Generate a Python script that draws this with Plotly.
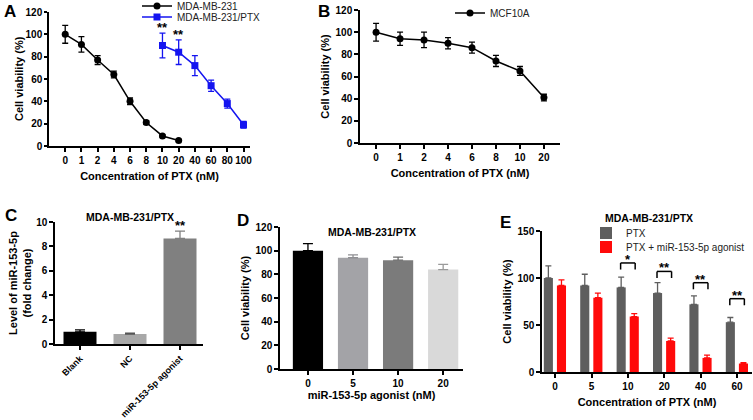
import plotly.graph_objects as go

W, H = 753, 420
def fx(p): return p / W
def fy(p): return 1 - p / H

# ---------------- data ----------------
# Panel A
conc_a = ['0', '1', '2', '4', '6', '8', '10', '20', '40', '60', '80', '100']
mda_x = ['0', '1', '2', '4', '6', '8', '10', '20']
mda_v = [100, 91, 77, 64, 40, 21, 9, 5]
mda_e = [8, 7, 4, 3, 3, 1.5, 1, 1]
ptx_x = ['10', '20', '40', '60', '80', '100']
ptx_v = [90, 84, 72, 54, 38, 19]
ptx_e = [11, 11, 9, 5, 4, 3]
ptx_stars = ['**', '**', '', '', '', '']

# Panel B
conc_b = ['0', '1', '2', '4', '6', '8', '10', '20']
mcf_v = [100, 94, 93, 90, 86, 74, 65, 41]
mcf_e = [8, 6, 7, 5, 5, 5, 4, 3]

# Panel C
groups_c = ['Blank', 'NC', 'miR-153-5p agonist']
level_c = [1.0, 0.82, 8.65]
level_err = [0.15, 0.06, 0.6]
colors_c = ['#000000', '#a8a8a8', '#808080']
stars_c = ['', '', '**']

# Panel D
dose_d = ['0', '5', '10', '20']
via_d = [100, 94, 92, 84]
via_err = [6, 2.5, 2.5, 4.5]
colors_d = ['#000000', '#a3a3a7', '#7b7b7b', '#d9d9d9']
errcol_d = ['#000000', '#8f8f93', '#6b6b6b', '#9a9a9a']

# Panel E
conc_e = ['0', '5', '10', '20', '40', '60']
ptx_bar = [100, 92, 90, 84, 72, 53]
ptx_bar_err = [13, 12, 11, 11, 9, 5]
ago_bar = [92, 79, 59, 33, 15, 9]
ago_bar_err = [6, 5, 3, 3, 3, 1]
sig_e = ['', '', '*', '**', '**', '**']
bracket_e = [None, None, 116, 107, 95, 78]

FONT = 'Arial, Liberation Sans, sans-serif'
BLUE = '#1414f0'
RED = '#ff0a0a'
GRAY_E = '#5e5e5e'

fig = go.Figure()

# ---------------- Panel A ----------------
ia = [conc_a.index(c) for c in mda_x]
ib = [conc_a.index(c) for c in ptx_x]
fig.add_trace(go.Scatter(
    x=ia, y=mda_v, mode='lines+markers', name='MDA-MB-231',
    line=dict(color='black', width=1.5), marker=dict(symbol='circle', size=7, color='black'),
    error_y=dict(type='data', array=mda_e, color='black', thickness=1.3, width=3),
    xaxis='x', yaxis='y', legend='legend', cliponaxis=False))
fig.add_trace(go.Scatter(
    x=ib, y=ptx_v, mode='lines+markers', name='MDA-MB-231/PTX',
    line=dict(color=BLUE, width=1.5), marker=dict(symbol='square', size=7, color=BLUE),
    error_y=dict(type='data', array=ptx_e, color=BLUE, thickness=1.3, width=3),
    xaxis='x', yaxis='y', legend='legend4', cliponaxis=False))

# ---------------- Panel B ----------------
fig.add_trace(go.Scatter(
    x=list(range(len(conc_b))), y=mcf_v, mode='lines+markers', name='MCF10A',
    line=dict(color='black', width=1.5), marker=dict(symbol='circle', size=7, color='black'),
    error_y=dict(type='data', array=mcf_e, color='black', thickness=1.3, width=3),
    xaxis='x2', yaxis='y2', legend='legend2', cliponaxis=False))

# ---------------- Panel C ----------------
for i, g in enumerate(groups_c):
    fig.add_trace(go.Bar(
        x=[i], y=[level_c[i]], width=0.66, marker=dict(color=colors_c[i], line=dict(width=0)),
        error_y=dict(type='data', symmetric=False, array=[level_err[i]], arrayminus=[0],
                     color='#000000' if i == 0 else ('#555555' if i == 1 else colors_c[i]),
                     thickness=1.3, width=5),
        showlegend=False, xaxis='x3', yaxis='y3'))

# ---------------- Panel D ----------------
for i, d in enumerate(dose_d):
    fig.add_trace(go.Bar(
        x=[i], y=[via_d[i]], width=0.67, marker=dict(color=colors_d[i], line=dict(width=0)),
        error_y=dict(type='data', symmetric=False, array=[via_err[i]], arrayminus=[0],
                     color=errcol_d[i], thickness=1.3, width=5),
        showlegend=False, xaxis='x4', yaxis='y4'))

# ---------------- Panel E ----------------
xe = list(range(len(conc_e)))
fig.add_trace(go.Bar(
    x=xe, y=ptx_bar, width=0.25, offset=-0.31, name='PTX',
    marker=dict(color=GRAY_E, line=dict(width=0)),
    error_y=dict(type='data', symmetric=False, array=ptx_bar_err, arrayminus=[0] * len(xe),
                 color=GRAY_E, thickness=1.3, width=3),
    xaxis='x5', yaxis='y5', legend='legend3'))
fig.add_trace(go.Bar(
    x=xe, y=ago_bar, width=0.25, offset=0.05, name='PTX + miR-153-5p agonist',
    marker=dict(color=RED, line=dict(width=0)),
    error_y=dict(type='data', symmetric=False, array=ago_bar_err, arrayminus=[0] * len(xe),
                 color=RED, thickness=1.3, width=3),
    xaxis='x5', yaxis='y5', legend='legend5'))

# ---------------- axes ----------------
tickfont = dict(family=FONT, size=10, color='black', weight='bold')
titlefont = dict(family=FONT, size=11, color='black', weight='bold')

def xax(domain, anchor, n, labels, rng, title=None, angle=0, standoff=4, tsize=10):
    tf = dict(tickfont)
    tf['size'] = tsize
    d = dict(domain=domain, anchor=anchor, range=rng, tickmode='array',
             tickvals=list(range(n)), ticktext=labels, showgrid=False, zeroline=False,
             showline=True, linecolor='black', linewidth=1.5, ticks='outside',
             ticklen=4, tickwidth=1.5, tickcolor='black', tickfont=tf,
             tickangle=angle, fixedrange=True, automargin=False)
    if title:
        d['title'] = dict(text=title, font=titlefont, standoff=standoff)
    return d

def yax(domain, anchor, rng, dtick, title, standoff=4, ticklen=4):
    d = dict(domain=domain, anchor=anchor, range=rng, dtick=dtick, tick0=0,
             showgrid=False, zeroline=False, showline=True, linecolor='black',
             linewidth=1.5, ticks='outside', ticklen=ticklen, tickwidth=1.5,
             tickcolor='black', tickfont=tickfont, automargin=False, fixedrange=True)
    if title:
        d['title'] = dict(text=title, font=titlefont, standoff=standoff)
    return d

layout = dict(
    width=W, height=H, margin=dict(l=0, r=0, t=0, b=0, autoexpand=False),
    paper_bgcolor='white', plot_bgcolor='white', barmode='overlay',
    font=dict(family=FONT, color='black'),
    xaxis=xax([fx(49), fx(250)], 'y', len(conc_a), conc_a, [-1, 11.4],
              'Concentration of PTX (nM)', standoff=8),
    yaxis=yax([fy(146), fy(12)], 'x', [0, 120], 20, None, ticklen=3),
    xaxis2=xax([fx(360), fx(560)], 'y2', len(conc_b), conc_b, [-0.67, 7.67],
               'Concentration of PTX (nM)', standoff=8),
    yaxis2=yax([fy(143), fy(10)], 'x2', [0, 120], 20, 'Cell viability (%)'),
    xaxis3=xax([fx(55), fx(203)], 'y3', len(groups_c), groups_c, [-0.5, 2.46], angle=-45,
               tsize=9),
    yaxis3=yax([fy(344), fy(222)], 'x3', [0, 10], 2, 'Level of miR-153-5p<br>(fold change)',
               standoff=2),
    xaxis4=xax([fx(280), fx(463)], 'y4', len(dose_d), dose_d, [-0.62, 3.44],
               'miR-153-5p agonist (nM)', standoff=0),
    yaxis4=yax([fy(369), fy(227)], 'x4', [0, 120], 20, 'Cell viability (%)'),
    xaxis5=xax([fx(542), fx(752)], 'y5', len(conc_e), conc_e, [-0.36, 5.41],
               'Concentration of PTX (nM)', standoff=8),
    yaxis5=yax([fy(372), fy(231)], 'x5', [0, 150], 50, 'Cell viability (%)'),
)

legfont = dict(family=FONT, size=10, color='#222222')
def leg(x, y):
    return dict(x=x, y=y, xref='paper', yref='paper', xanchor='left', yanchor='middle',
                bgcolor='rgba(0,0,0,0)', font=legfont, itemwidth=30, tracegroupgap=0)
layout['legend'] = leg(fx(137), fy(6))
layout['legend4'] = leg(fx(137), fy(17))
layout['legend2'] = leg(fx(450), fy(13))
layout['legend3'] = leg(fx(586), fy(233))
layout['legend5'] = leg(fx(586), fy(247))
fig.update_layout(**layout)

# ---------------- annotations ----------------
ann = []
# y title of panel A (sits closer to its axis than in the other panels)
ann.append(dict(x=fx(19), y=fy(79), xref='paper', yref='paper', text='Cell viability (%)',
                textangle=-90, showarrow=False, xanchor='center', yanchor='middle',
                font=titlefont))
starfont = dict(family=FONT, size=13, color='black', weight='bold')
for i, s in enumerate(ptx_stars):
    if s:
        ann.append(dict(x=ib[i], y=ptx_v[i] + ptx_e[i], xref='x', yref='y', text=s,
                        showarrow=False, yanchor='bottom', yshift=-4, font=starfont))
for i, s in enumerate(stars_c):
    if s:
        ann.append(dict(x=i, y=level_c[i] + level_err[i], xref='x3', yref='y3', text=s,
                        showarrow=False, yanchor='bottom', yshift=-4, font=starfont))
shapes = []
for i, s in enumerate(sig_e):
    if s and bracket_e[i] is not None:
        h = bracket_e[i]
        x0, x1 = i - 0.2, i + 0.2
        for (a, b, c, d) in [(x0, h, x1, h), (x0, h, x0, h - 7), (x1, h, x1, h - 7)]:
            shapes.append(dict(type='line', xref='x5', yref='y5', x0=a, y0=b, x1=c, y1=d,
                               line=dict(color='black', width=1.5)))
        ann.append(dict(x=i, y=h, xref='x5', yref='y5', text=s, showarrow=False,
                        yanchor='bottom', yshift=-6, font=starfont))

titles = [(fx(130), fy(217), 'MDA-MB-231/PTX'),
          (fx(372), fy(232), 'MDA-MB-231/PTX'),
          (fx(649), fy(218), 'MDA-MB-231/PTX')]
for x, y, t in titles:
    ann.append(dict(x=x, y=y, xref='paper', yref='paper', text=t, showarrow=False,
                    xanchor='center', yanchor='middle',
                    font=dict(family=FONT, size=10.5, color='black', weight='bold')))

letters = [(fx(2), fy(11), 'A'), (fx(316), fy(11), 'B'), (fx(3), fy(216), 'C'),
           (fx(235), fy(220), 'D'), (fx(498), fy(222), 'E')]
for x, y, t in letters:
    ann.append(dict(x=x, y=y, xref='paper', yref='paper', text=t, showarrow=False,
                    xanchor='left', yanchor='middle',
                    font=dict(family=FONT, size=17, color='black', weight='bold')))

fig.update_layout(annotations=ann, shapes=shapes)
fig.write_html('out.html', config={'displayModeBar': False},
               post_script="document.body.style.margin='0';document.body.style.overflow='hidden';")
